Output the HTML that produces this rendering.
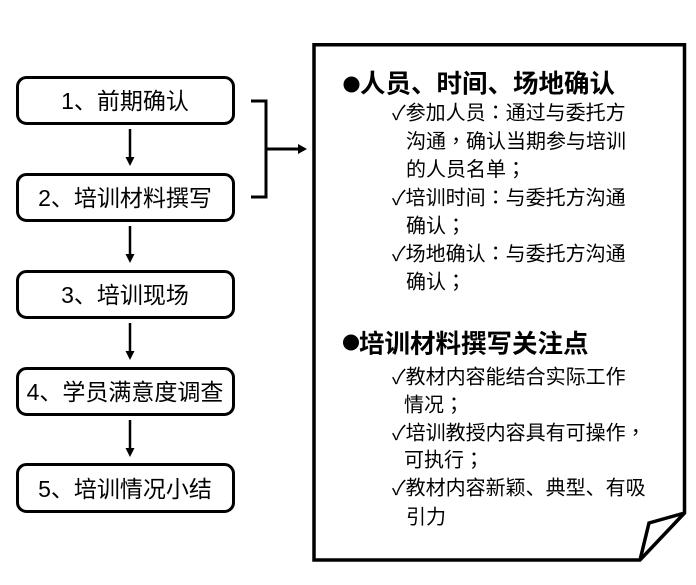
<!DOCTYPE html>
<html>
<head>
<meta charset="utf-8">
<style>
html,body{margin:0;padding:0;background:#fff;}
svg{display:block;}
text{font-family:"Liberation Sans","Noto Sans CJK SC",sans-serif;fill:#000;}
.bx{font-size:23px;}
.hd{font-size:25.5px;font-weight:bold;}
.it{font-size:20px;}
.p{font-family:"Noto Sans CJK TC",sans-serif;}
</style>
</head>
<body>
<svg width="696" height="585" viewBox="0 0 696 585" xmlns="http://www.w3.org/2000/svg">
<rect x="0" y="0" width="696" height="585" fill="#fff"/>
<g fill="#fff" stroke="#000" stroke-width="3">
<rect x="17.5" y="77.5" width="216" height="46" rx="9"/>
<rect x="17.5" y="174.5" width="216" height="46" rx="9"/>
<rect x="17.5" y="271.5" width="216" height="46" rx="9"/>
<rect x="17.5" y="368.5" width="216" height="46" rx="9"/>
<rect x="17.5" y="464.5" width="216" height="47" rx="9"/>
</g>
<g stroke="#000" stroke-width="2.5" fill="none">
<line x1="130" y1="129" x2="130" y2="160"/>
<line x1="130" y1="226" x2="130" y2="257"/>
<line x1="130" y1="323" x2="130" y2="354"/>
<line x1="130" y1="420" x2="130" y2="451"/>
</g>
<g fill="#000">
<polygon points="125.5,157 134.5,157 130,166"/>
<polygon points="125.5,254 134.5,254 130,263"/>
<polygon points="125.5,351 134.5,351 130,360"/>
<polygon points="125.5,448 134.5,448 130,457"/>
</g>
<text class="bx" x="125" y="109" text-anchor="middle">1、前期确认</text>
<text class="bx" x="125" y="206" text-anchor="middle">2、培训材料撰写</text>
<text class="bx" x="125" y="303" text-anchor="middle">3、培训现场</text>
<text class="bx" x="125" y="400" text-anchor="middle">4、学员满意度调查</text>
<text class="bx" x="125" y="497" text-anchor="middle">5、培训情况小结</text>
<path d="M251,101 L266,101 L266,197 L251,197" fill="none" stroke="#000" stroke-width="3"/>
<line x1="266" y1="149" x2="300" y2="149" stroke="#000" stroke-width="3"/>
<polygon points="298,144 307,149 298,154" fill="#000"/>
<path d="M314,44.7 L684.5,44.7 L684.5,513 L640,560 L314,560 Z" fill="#fff" stroke="#000" stroke-width="3.5" stroke-linejoin="miter"/>
<path d="M684.5,513 L649,523 L640,560" fill="none" stroke="#000" stroke-width="3.5"/>
<circle cx="351.5" cy="84.5" r="8" fill="#000"/>
<text class="hd" x="360" y="92.5">人员、时间、场地确认</text>
<text class="it" x="392" y="119.5">✓参加人员<tspan class="p">：</tspan>通过与委托方</text>
<text class="it" x="406" y="148">沟通<tspan class="p">，</tspan>确认当期参与培训</text>
<text class="it" x="406" y="176">的人员名单<tspan class="p">；</tspan></text>
<text class="it" x="392" y="204.5">✓培训时间<tspan class="p">：</tspan>与委托方沟通</text>
<text class="it" x="406" y="232.5">确认<tspan class="p">；</tspan></text>
<text class="it" x="392" y="260.5">✓场地确认<tspan class="p">：</tspan>与委托方沟通</text>
<text class="it" x="406" y="288.5">确认<tspan class="p">；</tspan></text>
<circle cx="351" cy="342.5" r="8" fill="#000"/>
<text class="hd" x="359" y="352.5">培训材料撰写关注点</text>
<text class="it" x="392" y="383.5">✓教材内容能结合实际工作</text>
<text class="it" x="404" y="411.5">情况<tspan class="p">；</tspan></text>
<text class="it" x="392" y="439.5">✓培训教授内容具有可操作<tspan class="p">，</tspan></text>
<text class="it" x="404" y="466.5">可执行<tspan class="p">；</tspan></text>
<text class="it" x="392" y="494.5">✓教材内容新颖、典型、有吸</text>
<text class="it" x="406" y="523.5">引力</text>
</svg>
</body>
</html>
